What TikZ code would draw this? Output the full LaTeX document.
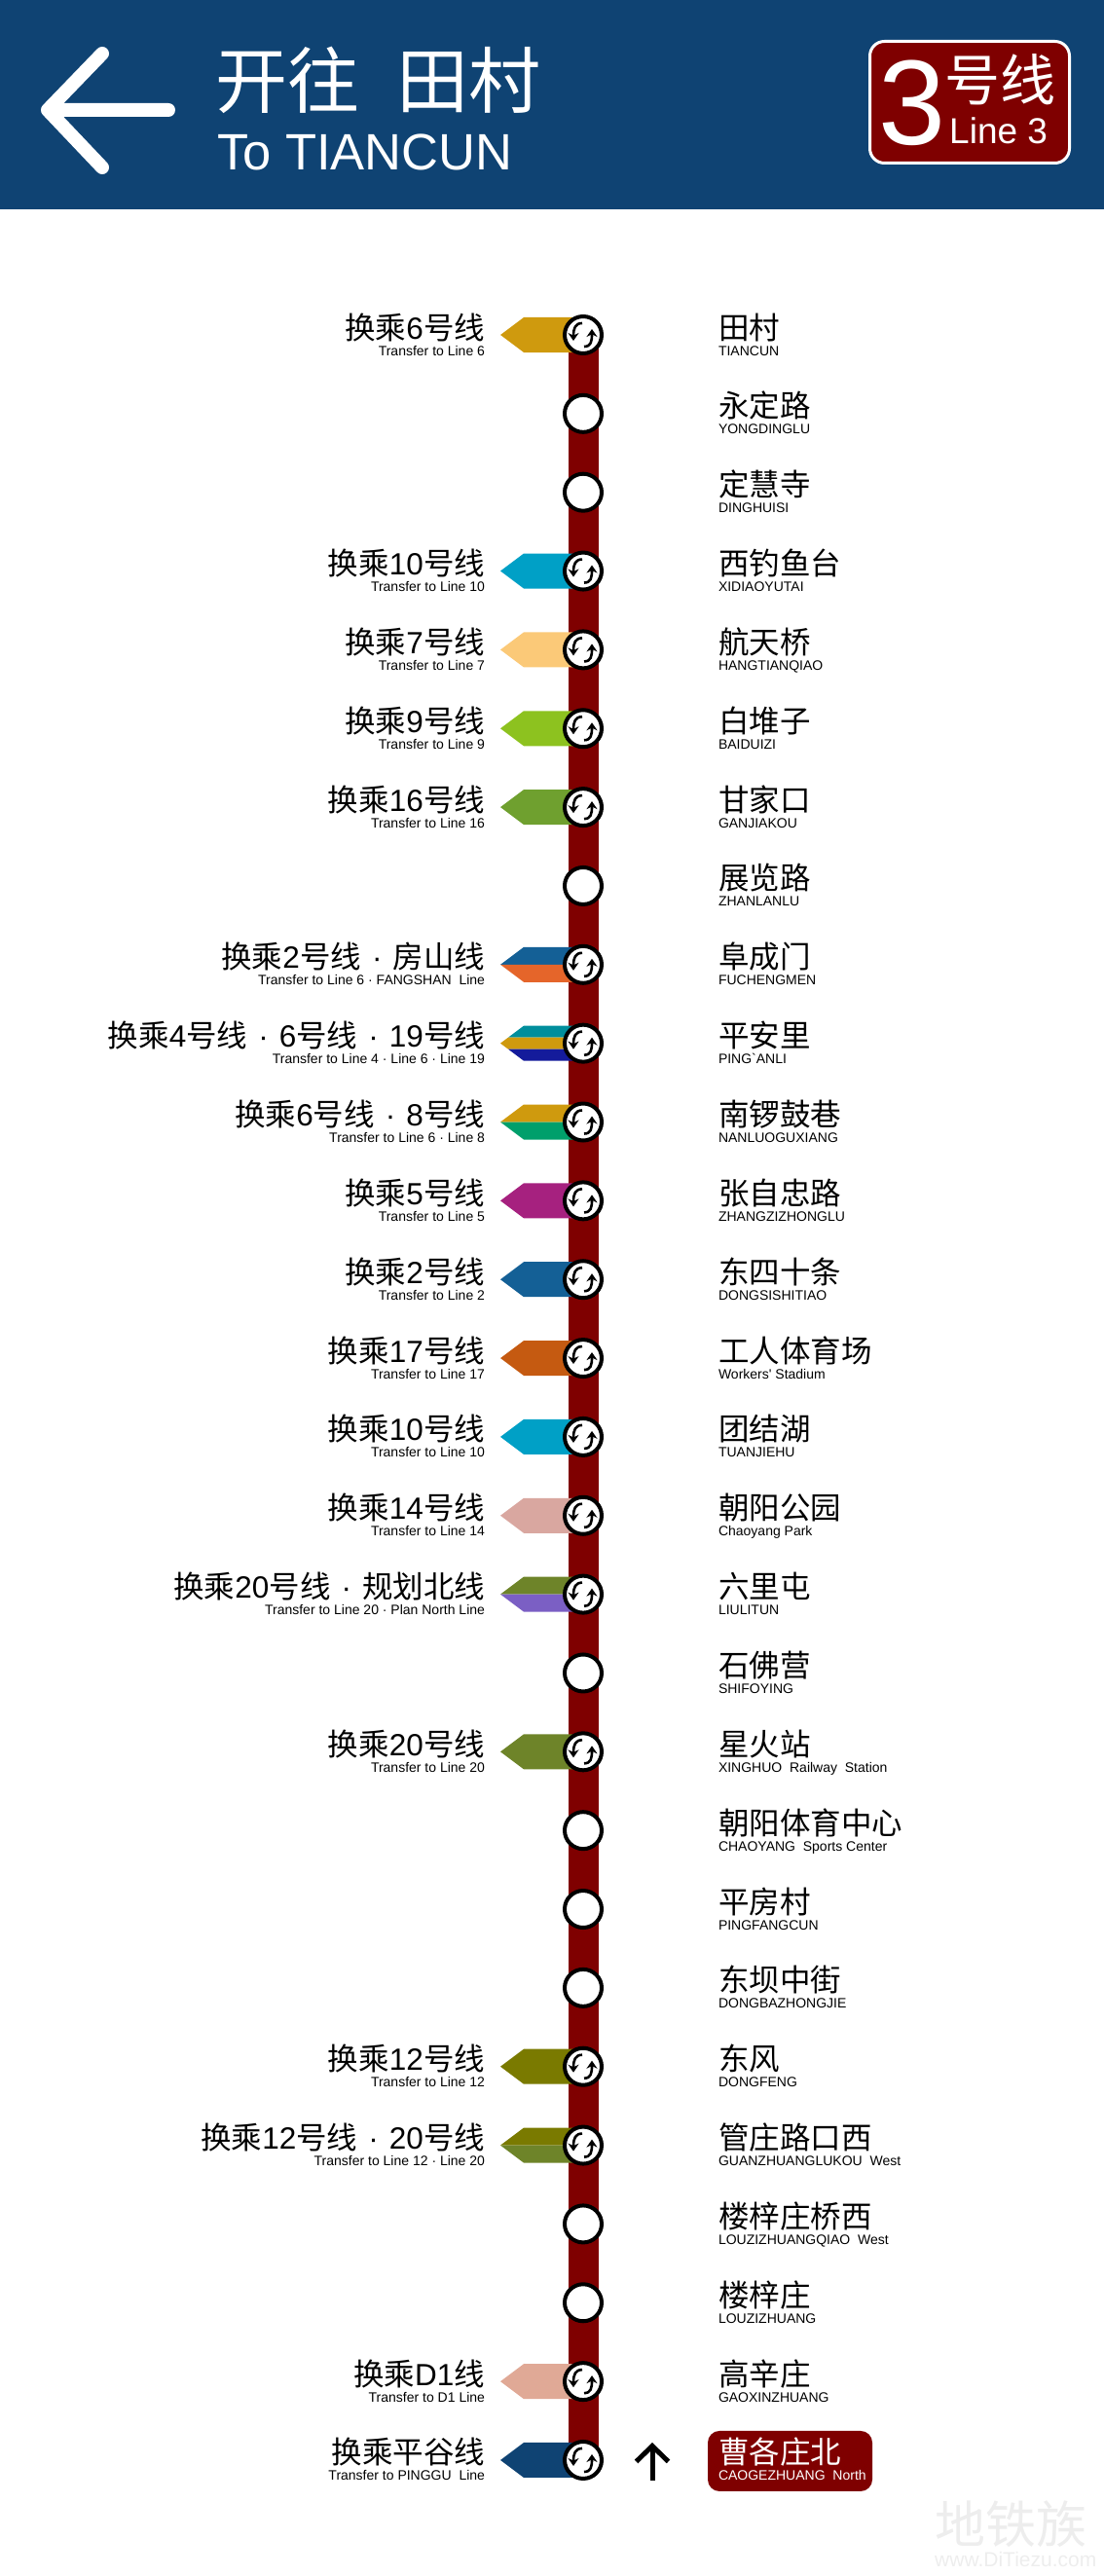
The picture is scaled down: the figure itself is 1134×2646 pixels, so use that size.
\documentclass[tikz,border=0pt]{standalone}
\usepackage{fontspec}
\setmainfont{Noto Sans CJK SC}
\newfontfamily\enfont{Liberation Sans}
\usetikzlibrary{arrows.meta, positioning, calc, backgrounds}
\definecolor{headblue}{HTML}{0F4373}
\definecolor{routered}{HTML}{7F0000}
\definecolor{lsix}{HTML}{CF9A0E}
\definecolor{lseven}{HTML}{FBC978}
\definecolor{lnine}{HTML}{8DC21F}
\definecolor{lten}{HTML}{00A0C6}
\definecolor{lsixteen}{HTML}{6FA02F}
\definecolor{ltwo}{HTML}{146096}
\definecolor{lfangshan}{HTML}{E5652A}
\definecolor{lfour}{HTML}{008E9C}
\definecolor{lnineteen}{HTML}{141B9B}
\definecolor{leight}{HTML}{009F6B}
\definecolor{lfive}{HTML}{A6217F}
\definecolor{lseventeen}{HTML}{C55A11}
\definecolor{lfourteen}{HTML}{D9A7A0}
\definecolor{ltwenty}{HTML}{6E8429}
\definecolor{lnorth}{HTML}{7B5FC4}
\definecolor{ltwelve}{HTML}{7A7A00}
\definecolor{ldone}{HTML}{E0A996}
\definecolor{lpinggu}{HTML}{0F4373}
\newcommand{\nm}[1]{{\enfont #1}}
\newcommand{\sepdot}{\hspace{11pt}{\enfont ·}\hspace{11pt}}
\newcommand{\ensm}[1]{{\enfont\fontsize{14}{17}\selectfont #1}}
\tikzset{
  plainstop/.style={
    circle, draw=black, fill=white, line width=4pt,
    minimum size=38pt, inner sep=0pt, outer sep=0pt
  },
  xferstop/.style={
    plainstop,
    path picture={
      \begin{scope}[shift={(path picture bounding box.center)}, line width=2.6pt]
        \draw[-{Stealth[length=8pt, width=11pt]}] (-1,-12) .. controls (-8,-12) and (-10,-7) .. (-10,6);
        \draw[-{Stealth[length=8pt, width=11pt]}] (1,12) .. controls (8,12) and (9,7) .. (9,-6);
      \end{scope}
    }
  },
  namenode/.style={
    anchor=base west, inner sep=0pt, outer sep=0pt, align=left, yshift=-21pt,
    font=\fontsize{31.5}{17}\selectfont
  },
  xferlabel/.style={
    anchor=base east, inner sep=0pt, outer sep=0pt, align=right, yshift=-21pt,
    font=\fontsize{31.5}{17}\selectfont
  },
  termnode/.style={
    rectangle, rounded corners=12pt, fill=routered, text=white,
    minimum width=169pt, minimum height=62pt, inner sep=0pt, outer sep=0pt
  },
  routeline/.style={routered, line width=31pt},
  uparrow/.style={-{Straight Barb[length=16pt, width=33pt, line width=5pt]}, line width=5pt, black},
  markfont/.style={text=black!7, inner sep=0pt}
}
\newcommand{\tagone}[2]{
  \begin{scope}[on background layer, shift={(#1)}]
    \fill[#2] (-85,0) -- (-61,-18) -- (-9,-18) -- (-9,18) -- (-61,18) -- cycle;
  \end{scope}
}
\newcommand{\tagtwo}[3]{
  \begin{scope}[on background layer, shift={(#1)}]
    \fill[#2] (-85,0) -- (-61,-18) -- (-9,-18) -- (-9,0) -- cycle;
    \fill[#3] (-85,0) -- (-61,18) -- (-9,18) -- (-9,0) -- cycle;
  \end{scope}
}
\newcommand{\tagthree}[4]{
  \begin{scope}[on background layer, shift={(#1)}]
    \fill[#2] (-77,-6) -- (-61,-18) -- (-9,-18) -- (-9,-6) -- cycle;
    \fill[#3] (-85,0) -- (-77,-6) -- (-9,-6) -- (-9,6) -- (-77,6) -- cycle;
    \fill[#4] (-77,6) -- (-61,18) -- (-9,18) -- (-9,6) -- cycle;
  \end{scope}
}
\begin{document}
\begin{tikzpicture}[x=1pt, y=-1pt, node distance=42.85pt]

  \useasboundingbox (0,0) rectangle (1134,2646);

  % Header band
  \fill[headblue] (0,0) rectangle (1134,215);
  \draw[white, line width=14pt, line cap=round, line join=round]
    (105,55) -- (49,113) -- (105,172) (49,113) -- (173,113);
  \node[anchor=base west, inner sep=0pt, text=white, font=\fontsize{74}{74}\selectfont] (titlecn) at (221,111) {开往\hspace{38pt}田村};
  \node[anchor=base west, inner sep=0pt, text=white, font=\enfont\fontsize{52.5}{54}\selectfont] (titleen) at (223,175) {To TIANCUN};

  % Line badge
  \node[rectangle, rounded corners=15pt, draw=white, line width=3pt, fill=routered,
    minimum width=205pt, minimum height=125pt, inner sep=0pt] (badge) at (996,105) {};
  \node[anchor=base west, inner sep=0pt, text=white, font=\enfont\fontsize{124}{128}\selectfont] (badgenum) at (902,149) {3};
  \node[anchor=base west, inner sep=0pt, align=left, text=white, font=\fontsize{57}{44}\selectfont] (badgecn) at (970,148) {号线\\\hspace{5pt}{\enfont\fontsize{37}{44}\selectfont Line 3}};

  % Stops
  \node[xferstop] (s1) at (599,344) {};
  \node[plainstop, below=of s1] (s2) {};
  \node[plainstop, below=of s2] (s3) {};
  \node[xferstop, below=of s3] (s4) {};
  \node[xferstop, below=of s4] (s5) {};
  \node[xferstop, below=of s5] (s6) {};
  \node[xferstop, below=of s6] (s7) {};
  \node[plainstop, below=of s7] (s8) {};
  \node[xferstop, below=of s8] (s9) {};
  \node[xferstop, below=of s9] (s10) {};
  \node[xferstop, below=of s10] (s11) {};
  \node[xferstop, below=of s11] (s12) {};
  \node[xferstop, below=of s12] (s13) {};
  \node[xferstop, below=of s13] (s14) {};
  \node[xferstop, below=of s14] (s15) {};
  \node[xferstop, below=of s15] (s16) {};
  \node[xferstop, below=of s16] (s17) {};
  \node[plainstop, below=of s17] (s18) {};
  \node[xferstop, below=of s18] (s19) {};
  \node[plainstop, below=of s19] (s20) {};
  \node[plainstop, below=of s20] (s21) {};
  \node[plainstop, below=of s21] (s22) {};
  \node[xferstop, below=of s22] (s23) {};
  \node[xferstop, below=of s23] (s24) {};
  \node[plainstop, below=of s24] (s25) {};
  \node[plainstop, below=of s25] (s26) {};
  \node[xferstop, below=of s26] (s27) {};
  \node[xferstop, below=of s27] (s28) {};

  % Route
  \begin{scope}[on background layer]
    \draw[routeline] (s1.center) -- (s28.center);
  \end{scope}

  % Transfer tags
  \tagone{s1}{lsix}
  \tagone{s4}{lten}
  \tagone{s5}{lseven}
  \tagone{s6}{lnine}
  \tagone{s7}{lsixteen}
  \tagtwo{s9}{ltwo}{lfangshan}
  \tagthree{s10}{lfour}{lsix}{lnineteen}
  \tagtwo{s11}{lsix}{leight}
  \tagone{s12}{lfive}
  \tagone{s13}{ltwo}
  \tagone{s14}{lseventeen}
  \tagone{s15}{lten}
  \tagone{s16}{lfourteen}
  \tagtwo{s17}{ltwenty}{lnorth}
  \tagone{s19}{ltwenty}
  \tagone{s23}{ltwelve}
  \tagtwo{s24}{ltwelve}{ltwenty}
  \tagone{s27}{ldone}
  \tagone{s28}{lpinggu}

  % Transfer labels
  \node[left=82pt of s1, xferlabel] (x1) {换乘\nm{6}号线\\\ensm{Transfer to Line 6}};
  \node[left=82pt of s4, xferlabel] (x4) {换乘\nm{10}号线\\\ensm{Transfer to Line 10}};
  \node[left=82pt of s5, xferlabel] (x5) {换乘\nm{7}号线\\\ensm{Transfer to Line 7}};
  \node[left=82pt of s6, xferlabel] (x6) {换乘\nm{9}号线\\\ensm{Transfer to Line 9}};
  \node[left=82pt of s7, xferlabel] (x7) {换乘\nm{16}号线\\\ensm{Transfer to Line 16}};
  \node[left=82pt of s9, xferlabel] (x9) {换乘\nm{2}号线\sepdot 房山线\\\ensm{Transfer to Line 6 · FANGSHAN\ \ Line}};
  \node[left=82pt of s10, xferlabel] (x10) {换乘\nm{4}号线\sepdot\nm{6}号线\sepdot\nm{19}号线\\\ensm{Transfer to Line 4 · Line 6 · Line 19}};
  \node[left=82pt of s11, xferlabel] (x11) {换乘\nm{6}号线\sepdot\nm{8}号线\\\ensm{Transfer to Line 6 · Line 8}};
  \node[left=82pt of s12, xferlabel] (x12) {换乘\nm{5}号线\\\ensm{Transfer to Line 5}};
  \node[left=82pt of s13, xferlabel] (x13) {换乘\nm{2}号线\\\ensm{Transfer to Line 2}};
  \node[left=82pt of s14, xferlabel] (x14) {换乘\nm{17}号线\\\ensm{Transfer to Line 17}};
  \node[left=82pt of s15, xferlabel] (x15) {换乘\nm{10}号线\\\ensm{Transfer to Line 10}};
  \node[left=82pt of s16, xferlabel] (x16) {换乘\nm{14}号线\\\ensm{Transfer to Line 14}};
  \node[left=82pt of s17, xferlabel] (x17) {换乘\nm{20}号线\sepdot 规划北线\\\ensm{Transfer to Line 20 · Plan North Line}};
  \node[left=82pt of s19, xferlabel] (x19) {换乘\nm{20}号线\\\ensm{Transfer to Line 20}};
  \node[left=82pt of s23, xferlabel] (x23) {换乘\nm{12}号线\\\ensm{Transfer to Line 12}};
  \node[left=82pt of s24, xferlabel] (x24) {换乘\nm{12}号线\sepdot\nm{20}号线\\\ensm{Transfer to Line 12 · Line 20}};
  \node[left=82pt of s27, xferlabel] (x27) {换乘\nm{D1}线\\\ensm{Transfer to D1 Line}};
  \node[left=82pt of s28, xferlabel] (x28) {换乘平谷线\\\ensm{Transfer to PINGGU\ \ Line}};

  % Station names
  \node[right=120pt of s1, namenode] (n1) {田村\\\ensm{TIANCUN}};
  \node[right=120pt of s2, namenode] (n2) {永定路\\\ensm{YONGDINGLU}};
  \node[right=120pt of s3, namenode] (n3) {定慧寺\\\ensm{DINGHUISI}};
  \node[right=120pt of s4, namenode] (n4) {西钓鱼台\\\ensm{XIDIAOYUTAI}};
  \node[right=120pt of s5, namenode] (n5) {航天桥\\\ensm{HANGTIANQIAO}};
  \node[right=120pt of s6, namenode] (n6) {白堆子\\\ensm{BAIDUIZI}};
  \node[right=120pt of s7, namenode] (n7) {甘家口\\\ensm{GANJIAKOU}};
  \node[right=120pt of s8, namenode] (n8) {展览路\\\ensm{ZHANLANLU}};
  \node[right=120pt of s9, namenode] (n9) {阜成门\\\ensm{FUCHENGMEN}};
  \node[right=120pt of s10, namenode] (n10) {平安里\\\ensm{PING`ANLI}};
  \node[right=120pt of s11, namenode] (n11) {南锣鼓巷\\\ensm{NANLUOGUXIANG}};
  \node[right=120pt of s12, namenode] (n12) {张自忠路\\\ensm{ZHANGZIZHONGLU}};
  \node[right=120pt of s13, namenode] (n13) {东四十条\\\ensm{DONGSISHITIAO}};
  \node[right=120pt of s14, namenode] (n14) {工人体育场\\\ensm{Workers' Stadium}};
  \node[right=120pt of s15, namenode] (n15) {团结湖\\\ensm{TUANJIEHU}};
  \node[right=120pt of s16, namenode] (n16) {朝阳公园\\\ensm{Chaoyang Park}};
  \node[right=120pt of s17, namenode] (n17) {六里屯\\\ensm{LIULITUN}};
  \node[right=120pt of s18, namenode] (n18) {石佛营\\\ensm{SHIFOYING}};
  \node[right=120pt of s19, namenode] (n19) {星火站\\\ensm{XINGHUO\ \ Railway\ \ Station}};
  \node[right=120pt of s20, namenode] (n20) {朝阳体育中心\\\ensm{CHAOYANG\ \ Sports Center}};
  \node[right=120pt of s21, namenode] (n21) {平房村\\\ensm{PINGFANGCUN}};
  \node[right=120pt of s22, namenode] (n22) {东坝中街\\\ensm{DONGBAZHONGJIE}};
  \node[right=120pt of s23, namenode] (n23) {东风\\\ensm{DONGFENG}};
  \node[right=120pt of s24, namenode] (n24) {管庄路口西\\\ensm{GUANZHUANGLUKOU\ \ West}};
  \node[right=120pt of s25, namenode] (n25) {楼梓庄桥西\\\ensm{LOUZIZHUANGQIAO\ \ West}};
  \node[right=120pt of s26, namenode] (n26) {楼梓庄\\\ensm{LOUZIZHUANG}};
  \node[right=120pt of s27, namenode] (n27) {高辛庄\\\ensm{GAOXINZHUANG}};

  % Terminus
  \node[termnode, right=109pt of s28, yshift=-1pt] (t28) {};
  \node[right=120pt of s28, namenode, text=white] (n28) {曹各庄北\\\ensm{CAOGEZHUANG\ \ North}};
  \coordinate[right=52pt of s28, yshift=-21pt] (upfoot);
  \coordinate[right=52pt of s28, yshift=18pt] (uphead);
  \draw[uparrow] (upfoot) -- (uphead);

  % Site mark
  \node[markfont, anchor=base west, font=\fontsize{52}{52}\selectfont] (markcn) at (960,2612) {地铁族};
  \node[markfont, anchor=base west, font=\enfont\fontsize{21}{21}\selectfont] (markurl) at (960,2636) {www.DiTiezu.com};

\end{tikzpicture}
\end{document}
